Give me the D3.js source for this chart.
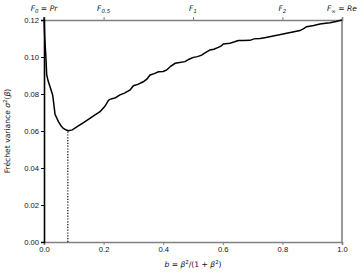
<!DOCTYPE html>
<html lang="en">
<head>
<meta charset="UTF-8">
<title>Fréchet variance</title>
<style>
    body { margin: 0; background: #fff; }
    svg { font-family: "DejaVu Sans", sans-serif; }
</style>
</head>
<body>
<svg width="364" height="276"></svg>
<script src="https://cdn.jsdelivr.net/npm/d3@7.8.5/dist/d3.min.js"></script>
<script>
    // curve: b vs variance
    const bValues = [0.0, 0.002, 0.004, 0.006, 0.009, 0.014, 0.020, 0.029, 0.033, 0.037, 0.048, 0.057, 0.065, 0.075, 0.082,
        0.095, 0.110, 0.130, 0.154, 0.170, 0.188, 0.205, 0.216, 0.221, 0.240, 0.255, 0.270, 0.289, 0.300, 0.315, 0.333,
        0.345, 0.356, 0.370, 0.384, 0.400, 0.412, 0.425, 0.440, 0.455, 0.473, 0.487, 0.501, 0.515, 0.529, 0.543, 0.557,
        0.570, 0.585, 0.595, 0.602, 0.624, 0.640, 0.652, 0.670, 0.691, 0.705, 0.725, 0.745, 0.769, 0.790, 0.814, 0.835,
        0.859, 0.870, 0.881, 0.905, 0.926, 0.945, 0.960, 0.980, 1.0]
    const variance = [0.1215, 0.112, 0.106, 0.101, 0.0905, 0.087, 0.0840, 0.0795, 0.0745, 0.0690, 0.0652, 0.0628, 0.0614, 0.0605, 0.0601,
        0.0606, 0.0622, 0.0643, 0.0668, 0.0686, 0.0704, 0.0735, 0.0765, 0.0771, 0.0780, 0.0795, 0.0805, 0.0822, 0.0845, 0.0852, 0.0866,
        0.0880, 0.0903, 0.0910, 0.0920, 0.0922, 0.0930, 0.0950, 0.0966, 0.0970, 0.0975, 0.0988, 0.0998, 0.1002, 0.1010, 0.1025, 0.1038,
        0.1042, 0.1052, 0.1060, 0.1070, 0.1074, 0.1082, 0.1089, 0.1089, 0.1090, 0.1098, 0.1100, 0.1106, 0.1114, 0.1120, 0.1128, 0.1135,
        0.1143, 0.1152, 0.1164, 0.1170, 0.1178, 0.1182, 0.1185, 0.1192, 0.1200]
    const minB = 0.08
    const minVariance = 0.0601

    const xTicks = [0, 0.2, 0.4, 0.6, 0.8, 1.0]
    const yTicks = [0, 0.02, 0.04, 0.06, 0.08, 0.10, 0.12]
    // top axis: b positions of beta = 0, 0.5, 1, 2, inf
    const topTicks = [0, 0.2, 0.5, 0.8, 1.0]
    const topSubs = ['0', '0.5', '1', '2', '∞']
    const topSuffix = ['Pr', '', '', '', 'Re']

    const plotLeft = 44, plotRight = 342, plotTop = 20, plotBottom = 242
    const fs = 7.6, subFs = 5.4

    const svg = d3.select('svg')
    const x = d3.scaleLinear().domain([0, 1]).range([plotLeft, plotRight])
    const y = d3.scaleLinear().domain([0, 0.12]).range([plotBottom, plotTop])

    const grey = '#808080'

    // bottom axis
    const gx = svg.append('g')
        .attr('transform', `translate(0,${plotBottom})`)
        .call(d3.axisBottom(x).tickValues(xTicks).tickFormat(d3.format('.1f')).tickSize(3).tickPadding(2))
    gx.select('.domain').attr('stroke', grey).attr('stroke-width', 1.6)
    gx.selectAll('.tick line').attr('stroke', grey)
    gx.selectAll('text').attr('font-size', fs).attr('fill', '#111')

    // right spine
    svg.append('line')
        .attr('x1', plotRight).attr('x2', plotRight).attr('y1', plotTop).attr('y2', plotBottom)
        .attr('stroke', grey).attr('stroke-width', 1.6)

    // top axis
    const gt = svg.append('g')
        .attr('transform', `translate(0,${plotTop})`)
        .call(d3.axisTop(x).tickValues(topTicks).tickFormat('').tickSize(3))
    gt.select('.domain').attr('stroke', grey).attr('stroke-width', 1.6)
    gt.selectAll('.tick line').attr('stroke', grey)

    const topLabels = svg.append('g').selectAll('text')
        .data(topTicks)
        .join('text')
        .attr('x', d => x(d))
        .attr('y', 11)
        .attr('text-anchor', 'middle')
        .attr('font-size', fs)
        .attr('fill', '#111')
    topLabels.each(function (d, i) {
        const t = d3.select(this)
        t.append('tspan').attr('font-style', 'italic').text('F')
        t.append('tspan').attr('font-style', 'italic').attr('font-size', subFs).attr('dy', 2).text(topSubs[i])
        if (topSuffix[i]) {
            t.append('tspan').attr('dy', -2).text(' = ')
            t.append('tspan').attr('font-style', 'italic').text(topSuffix[i])
        }
    })

    // left axis
    const gy = svg.append('g')
        .attr('transform', `translate(${plotLeft},0)`)
        .call(d3.axisLeft(y).tickValues(yTicks).tickFormat(d3.format('.2f')).tickSize(3).tickPadding(2))
    gy.select('.domain').attr('stroke', '#000').attr('stroke-width', 1.6)
    gy.selectAll('text').attr('font-size', fs).attr('fill', '#111')

    // dotted line at the minimum
    svg.append('line')
        .attr('x1', x(minB)).attr('x2', x(minB))
        .attr('y1', y(0)).attr('y2', y(minVariance))
        .attr('stroke', '#000').attr('stroke-width', 1.2)
        .attr('stroke-dasharray', '1.2,1.6')

    // curve
    const points = bValues.map((b, i) => [b, variance[i]])
    svg.append('path')
        .datum(points)
        .attr('fill', 'none')
        .attr('stroke', '#000')
        .attr('stroke-width', 1.5)
        .attr('d', d3.line().x(d => x(d[0])).y(d => y(d[1])))

    // axis labels
    const xl = svg.append('text')
        .attr('x', (plotLeft + plotRight) / 2)
        .attr('y', 267)
        .attr('text-anchor', 'middle')
        .attr('font-size', fs)
        .attr('fill', '#111')
    xl.append('tspan').attr('font-style', 'italic').text('b')
    xl.append('tspan').text(' = ')
    xl.append('tspan').attr('font-style', 'italic').text('β')
    xl.append('tspan').attr('font-size', subFs).attr('dy', -3).text('2')
    xl.append('tspan').attr('dy', 3).text('/(1 + ')
    xl.append('tspan').attr('font-style', 'italic').text('β')
    xl.append('tspan').attr('font-size', subFs).attr('dy', -3).text('2')
    xl.append('tspan').attr('dy', 3).text(')')

    const yl = svg.append('text')
        .attr('transform', `translate(10,${(plotTop + plotBottom) / 2}) rotate(-90)`)
        .attr('text-anchor', 'middle')
        .attr('font-size', fs)
        .attr('fill', '#111')
    yl.append('tspan').text('Fréchet variance ')
    yl.append('tspan').attr('font-style', 'italic').text('σ')
    yl.append('tspan').attr('font-size', subFs).attr('dy', -3).text('2')
    yl.append('tspan').attr('dy', 3).text('(')
    yl.append('tspan').attr('font-style', 'italic').text('β')
    yl.append('tspan').text(')')
</script>
</body>
</html>
